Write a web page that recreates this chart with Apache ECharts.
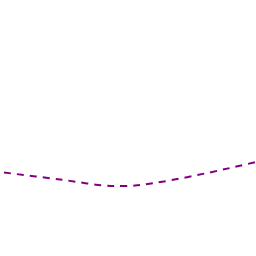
<!DOCTYPE html>
<html><head><meta charset="utf-8">
<script src="https://cdn.jsdelivr.net/npm/echarts@6/dist/echarts.min.js"></script>
<style>html,body{margin:0;padding:0;background:#fff}#c{width:256px;height:256px}</style>
</head><body><div id="c"></div>
<script>
const xValues = [0, 56, 111, 131, 252];
const yValues = [83.5, 76.5, 70, 70.5, 94];
const chart = echarts.init(document.getElementById('c'), null, {renderer: 'canvas'});
chart.setOption({
  animation: false,
  backgroundColor: '#ffffff',
  grid: {left: 4, right: 0, top: 0, bottom: 0},
  xAxis: {type: 'value', min: 0, max: 252, show: false},
  yAxis: {type: 'value', min: 0, max: 256, show: false},
  series: [{
    type: 'line',
    data: xValues.map((x, i) => [x, yValues[i]]),
    smooth: 0.3,
    showSymbol: false,
    lineStyle: {color: '#800080', width: 2, type: [7, 6]}
  }]
});
</script></body></html>
